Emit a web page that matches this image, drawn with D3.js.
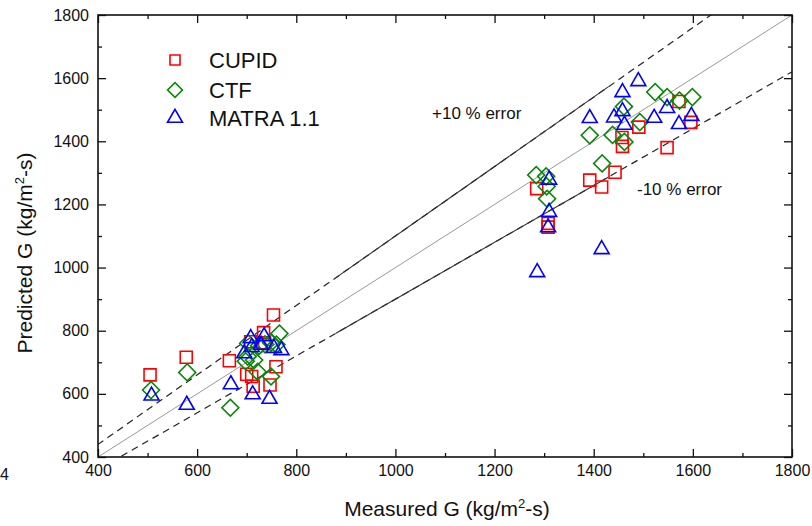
<!DOCTYPE html>
<html>
<head>
<meta charset="utf-8">
<script src="https://cdn.jsdelivr.net/npm/d3@7"></script>
<style>
  body { margin: 0; background: #fff; }
  text { font-family: "Liberation Sans", Arial, sans-serif; fill: #111; }
</style>
</head>
<body>
<svg id="chart" width="812" height="526"></svg>
<script>
// measured vs predicted G
const cupid = [
  [505, 660], [578, 716], [665, 705], [700, 662], [710, 655], [713, 624],
  [747, 628], [759, 686], [754, 850], [734, 794], [708, 765], [736, 762],
  [1285, 1250], [1308, 1140], [1308, 1128], [1392, 1277], [1416, 1255],
  [1443, 1302], [1457, 1412], [1458, 1384], [1491, 1445], [1548, 1380],
  [1572, 1526], [1596, 1460]
];
const ctf = [
  [507, 612], [580, 668], [667, 556], [766, 791], [749, 655], [698, 703],
  [702, 718], [715, 707], [722, 670], [703, 760], [725, 752], [737, 757],
  [749, 762], [760, 756],
  [1284, 1293], [1304, 1289], [1305, 1257], [1306, 1218], [1392, 1419],
  [1417, 1330], [1438, 1420], [1462, 1398], [1461, 1510], [1493, 1461],
  [1524, 1556], [1548, 1540], [1573, 1529], [1599, 1540]
];
const matra = [
  [508, 594], [579, 565], [668, 630], [712, 598], [746, 584], [708, 776],
  [735, 782], [695, 728], [755, 745], [770, 738], [729, 755], [710, 748],
  [1286, 985], [1416, 1058], [1310, 1176], [1308, 1127], [1310, 1278],
  [1392, 1473], [1441, 1475], [1458, 1555], [1458, 1495], [1462, 1452],
  [1490, 1590], [1522, 1474], [1548, 1505], [1572, 1454], [1597, 1480]
];
const seriesNames = ["CUPID", "CTF", "MATRA 1.1"];
const majorTicks = [400, 600, 800, 1000, 1200, 1400, 1600, 1800];
const minorTicks = [500, 700, 900, 1100, 1300, 1500, 1700];
const errorFactors = [1.1, 0.9];
const errorLabels = ["+10 % error", "-10 % error"];
const solidSpan = [880, 1430];

const svg = d3.select("#chart");
const x = d3.scaleLinear().domain([400, 1800]).range([98, 792]);
const y = d3.scaleLinear().domain([400, 1800]).range([457, 15]);
const [x0, x1] = x.range();
const [y1, y0] = y.range();
const fmt = d3.format("d");

svg.append("clipPath").attr("id", "plot-clip")
  .append("rect")
  .attr("x", x0).attr("y", y0)
  .attr("width", x1 - x0).attr("height", y1 - y0);

const plot = svg.append("g").attr("clip-path", "url(#plot-clip)");

// 1:1 line
plot.append("line")
  .attr("x1", x(400)).attr("y1", y(400))
  .attr("x2", x(1800)).attr("y2", y(1800))
  .attr("stroke", "#999").attr("stroke-width", 1);

// +/-10 % lines (dashed, the middle part prints as solid)
errorFactors.forEach((f) => {
  plot.append("line")
    .attr("x1", x(300)).attr("y1", y(300 * f))
    .attr("x2", x(1900)).attr("y2", y(1900 * f))
    .attr("stroke", "#222").attr("stroke-width", 1.2)
    .attr("stroke-dasharray", "7,5");
  plot.append("line")
    .attr("x1", x(solidSpan[0])).attr("y1", y(solidSpan[0] * f))
    .attr("x2", x(solidSpan[1])).attr("y2", y(solidSpan[1] * f))
    .attr("stroke", "#333").attr("stroke-width", 1.1);
});

svg.append("text").attr("x", 432).attr("y", 119)
  .attr("font-size", 17).text(errorLabels[0]);
svg.append("text").attr("x", 637).attr("y", 195)
  .attr("font-size", 17).text(errorLabels[1]);

// markers
const sq = d3.symbol().type(d3.symbolSquare).size(144);
const tri = d3.symbol().type(d3.symbolTriangle).size(97);
const styles = [
  { data: cupid, color: "#ff0000", path: sq(), rot: 0 },
  { data: ctf, color: "#0a870a", path: sq(), rot: 45 },
  { data: matra, color: "#0000ff", path: tri(), rot: 0 }
];

styles.forEach((s) => {
  plot.append("g")
    .selectAll("path")
    .data(s.data)
    .join("path")
    .attr("d", s.path)
    .attr("transform", (d) => `translate(${x(d[0])},${y(d[1])}) rotate(${s.rot})`)
    .attr("fill", "none")
    .attr("stroke", s.color)
    .attr("stroke-width", 1.6);
});

// axes with inward ticks on all four sides
function styleAxis(g) {
  g.select(".domain").remove();
  g.selectAll("line").attr("stroke", "#111").attr("stroke-width", 1.3);
  g.selectAll("text").attr("font-size", 16).attr("fill", "#111")
    .attr("font-family", "Liberation Sans, Arial, sans-serif");
}

svg.append("g").attr("transform", `translate(0,${y1})`)
  .call(d3.axisBottom(x).tickValues(majorTicks).tickFormat(fmt).tickSize(-8).tickSizeOuter(0).tickPadding(8))
  .call(styleAxis);
svg.append("g").attr("transform", `translate(0,${y1})`)
  .call(d3.axisBottom(x).tickValues(minorTicks).tickSize(-4).tickFormat(""))
  .call(styleAxis);
svg.append("g").attr("transform", `translate(0,${y0})`)
  .call(d3.axisTop(x).tickValues(majorTicks).tickSize(-8).tickFormat(""))
  .call(styleAxis);
svg.append("g").attr("transform", `translate(0,${y0})`)
  .call(d3.axisTop(x).tickValues(minorTicks).tickSize(-4).tickFormat(""))
  .call(styleAxis);

svg.append("g").attr("transform", `translate(${x0},0)`)
  .call(d3.axisLeft(y).tickValues(majorTicks).tickFormat(fmt).tickSize(-8).tickSizeOuter(0).tickPadding(9))
  .call(styleAxis);
svg.append("g").attr("transform", `translate(${x0},0)`)
  .call(d3.axisLeft(y).tickValues(minorTicks).tickSize(-4).tickFormat(""))
  .call(styleAxis);
svg.append("g").attr("transform", `translate(${x1},0)`)
  .call(d3.axisRight(y).tickValues(majorTicks).tickSize(-8).tickFormat(""))
  .call(styleAxis);
svg.append("g").attr("transform", `translate(${x1},0)`)
  .call(d3.axisRight(y).tickValues(minorTicks).tickSize(-4).tickFormat(""))
  .call(styleAxis);

svg.append("rect")
  .attr("x", x0).attr("y", y0)
  .attr("width", x1 - x0).attr("height", y1 - y0)
  .attr("fill", "none").attr("stroke", "#111").attr("stroke-width", 1.6);

// axis titles
const xt = svg.append("text").attr("x", 447).attr("y", 516)
  .attr("text-anchor", "middle").attr("font-size", 21);
xt.append("tspan").text("Measured G (kg/m");
xt.append("tspan").attr("font-size", 13).attr("dy", -8).text("2");
xt.append("tspan").attr("dy", 8).text("-s)");

const yt = svg.append("text")
  .attr("transform", "translate(32,253) rotate(-90)")
  .attr("text-anchor", "middle").attr("font-size", 21);
yt.append("tspan").text("Predicted G (kg/m");
yt.append("tspan").attr("font-size", 13).attr("dy", -8).text("2");
yt.append("tspan").attr("dy", 8).text("-s)");

// stray glyph at the left edge of the source figure
svg.append("text").attr("x", 0).attr("y", 480).attr("font-size", 16).text("4");

// legend
const legendY = [60, 90, 118];
const legendPaths = [
  d3.symbol().type(d3.symbolSquare).size(100)(),
  d3.symbol().type(d3.symbolSquare).size(110)(),
  tri()
];
styles.forEach((s, i) => {
  svg.append("path")
    .attr("d", legendPaths[i])
    .attr("transform", `translate(175,${legendY[i]}) rotate(${s.rot})`)
    .attr("fill", "none").attr("stroke", s.color).attr("stroke-width", 1.6);
  svg.append("text").attr("x", 209).attr("y", legendY[i] + 8)
    .attr("font-size", 22).text(seriesNames[i]);
});
</script>
</body>
</html>
